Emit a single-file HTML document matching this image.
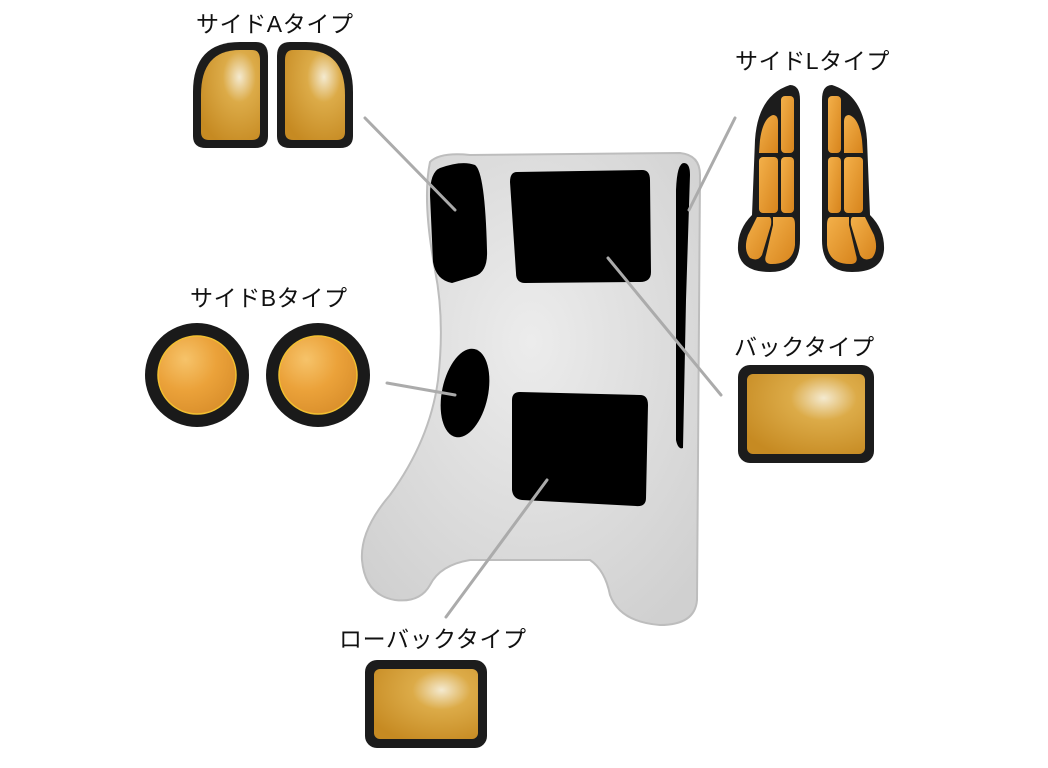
<!DOCTYPE html>
<html><head><meta charset="utf-8"><style>
html,body{margin:0;padding:0;background:#fff;width:1048px;height:768px;overflow:hidden}
svg{display:block}
text{font-family:"Liberation Sans","Noto Sans CJK JP",sans-serif;font-size:23px;letter-spacing:0.6px;fill:#111}
</style></head><body>
<svg width="1048" height="768" viewBox="0 0 1048 768" xmlns="http://www.w3.org/2000/svg">
<defs>
<radialGradient id="g1" cx="0.65" cy="0.3" r="0.8">
<stop offset="0" stop-color="#f4ead0"/><stop offset="0.35" stop-color="#dcab48"/><stop offset="1" stop-color="#c68a22"/></radialGradient>
<radialGradient id="g2" cx="0.35" cy="0.3" r="0.8">
<stop offset="0" stop-color="#f6c36a"/><stop offset="0.5" stop-color="#eba23a"/><stop offset="1" stop-color="#d88d2a"/></radialGradient>
<linearGradient id="g3" x1="0" y1="0" x2="1" y2="1">
<stop offset="0" stop-color="#f3b04a"/><stop offset="1" stop-color="#d7841c"/></linearGradient>
<radialGradient id="seat" cx="0.5" cy="0.4" r="0.7">
<stop offset="0" stop-color="#ececec"/><stop offset="1" stop-color="#d0d0d0"/></radialGradient>
</defs>

<path d="M430,162 Q440,152 470,155 L680,153 Q700,155 700,175 L697,600 Q695,625 660,625 Q620,622 610,595 Q605,570 590,560 L470,560 Q440,565 430,585 Q420,603 395,600 Q365,595 362,560 Q360,530 390,495 Q430,440 438,380 Q445,320 435,270 Q422,200 430,162 Z" fill="url(#seat)" stroke="#bdbdbd" stroke-width="2"/>
<path d="M440,168 Q462,160 475,165 Q485,172 487,250 Q488,272 475,276 L452,283 Q436,280 433,262 L430,195 Q430,172 440,168 Z" fill="#000"/>
<path d="M517,172 L642,170 Q650,170 650,180 L651,272 Q651,282 640,282 L525,283 Q516,283 516,273 L510,182 Q510,172 517,172 Z" fill="#000"/>
<ellipse cx="465" cy="393" rx="23" ry="45" transform="rotate(12 465 393)" fill="#000"/>
<path d="M520,392 L640,395 Q648,395 648,405 L646,498 Q646,507 636,506 L522,500 Q513,499 512,490 L512,400 Q512,392 520,392 Z" fill="#000"/>
<path d="M684,163 Q690,163 690,175 L686,300 L683,448 Q678,450 676,440 L676,190 Q677,163 684,163 Z" fill="#000"/>

<g stroke="#ababab" stroke-width="3" stroke-linecap="round">
<line x1="365" y1="118" x2="455" y2="210"/>
<line x1="735" y1="118" x2="689" y2="210"/>
<line x1="608" y1="258" x2="721" y2="395"/>
<line x1="387" y1="383" x2="455" y2="395"/>
<line x1="547" y1="480" x2="446" y2="617"/>
</g>

<text x="196" y="32">サイドAタイプ</text>
<text x="735" y="69">サイドLタイプ</text>
<text x="190" y="306">サイドBタイプ</text>
<text x="734" y="355">バックタイプ</text>
<text x="339" y="647">ローバックタイプ</text>

<path d="M240,42 L256,42 Q268,42 268,56 L268,136 Q268,148 255,148 L206,148 Q193,148 193,136 L193,92 Q193,42 240,42 Z" fill="#1c1c1c"/>
<path d="M240,50 L252,50 Q260,50 260,60 L260,132 Q260,140 252,140 L209,140 Q201,140 201,132 L201,95 Q201,50 240,50 Z" fill="url(#g1)"/>
<path d="M290,42 L306,42 Q353,42 353,92 L353,136 Q353,148 340,148 L290,148 Q277,148 277,136 L277,56 Q277,42 290,42 Z" fill="#1c1c1c"/>
<path d="M293,50 L305,50 Q345,50 345,95 L345,132 Q345,140 337,140 L293,140 Q285,140 285,132 L285,60 Q285,50 293,50 Z" fill="url(#g1)"/>

<circle cx="197" cy="375" r="52" fill="#1a1a1a"/>
<circle cx="197" cy="375" r="39" fill="url(#g2)" stroke="#f2c030" stroke-width="1.5"/>
<circle cx="318" cy="375" r="52" fill="#1a1a1a"/>
<circle cx="318" cy="375" r="39" fill="url(#g2)" stroke="#f2c030" stroke-width="1.5"/>

<rect x="738" y="365" width="136" height="98" rx="12" fill="#1c1c1c"/>
<rect x="747" y="374" width="118" height="80" rx="6" fill="url(#g1)"/>
<rect x="365" y="660" width="122" height="88" rx="12" fill="#1c1c1c"/>
<rect x="374" y="669" width="104" height="70" rx="6" fill="url(#g1)"/>

<path d="M790,85 Q800,85 800,100 L800,240 Q800,272 770,272 Q740,272 738,250 Q737,230 752,215 L755,140 Q758,95 790,85 Z" fill="#1c1c1c"/>
<g fill="url(#g3)">
<path d="M773,115 Q778,115 778,122 L778,153 L759,153 L760,140 Q763,118 773,115 Z"/>
<rect x="781" y="96" width="13" height="57" rx="4"/>
<rect x="759" y="157" width="19" height="56" rx="4"/>
<rect x="781" y="157" width="13" height="56" rx="4"/>
<path d="M757,217 L769,217 Q772,217 771,225 L762,255 Q758,262 750,258 Q743,250 748,235 Z"/>
<path d="M773,217 L791,217 Q795,217 795,225 L795,245 Q793,264 772,264 Q763,264 766,255 L773,225 Z"/>
</g>
<path d="M832,85 Q822,85 822,100 L822,240 Q822,272 852,272 Q882,272 884,250 Q885,230 870,215 L867,140 Q864,95 832,85 Z" fill="#1c1c1c"/>
<g fill="url(#g3)">
<path d="M849,115 Q844,115 844,122 L844,153 L863,153 L862,140 Q859,118 849,115 Z"/>
<rect x="828" y="96" width="13" height="57" rx="4"/>
<rect x="844" y="157" width="19" height="56" rx="4"/>
<rect x="828" y="157" width="13" height="56" rx="4"/>
<path d="M865,217 L853,217 Q850,217 851,225 L860,255 Q864,262 872,258 Q879,250 874,235 Z"/>
<path d="M849,217 L831,217 Q827,217 827,225 L827,245 Q829,264 850,264 Q859,264 856,255 L849,225 Z"/>
</g>
</svg>
</body></html>
